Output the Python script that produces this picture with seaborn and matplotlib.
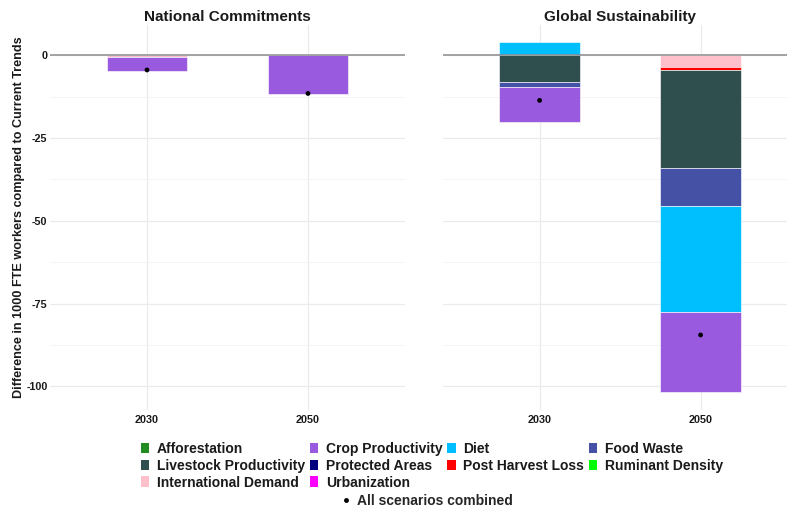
import numpy as np
import pandas as pd
import matplotlib
matplotlib.use("Agg")
import matplotlib.pyplot as plt
from matplotlib.patches import Patch
from matplotlib.lines import Line2D
from matplotlib.ticker import MultipleLocator
import seaborn as sns

# ---- data -------------------------------------------------------------
years = ["2030", "2050"]
scenarios = ["National Commitments", "Global Sustainability"]
components = ["Afforestation", "Crop Productivity", "Diet", "Food Waste",
              "Livestock Productivity", "Protected Areas", "Post Harvest Loss",
              "Ruminant Density", "International Demand", "Urbanization"]
component_colors = ["#228B22", "#995ADF", "#00BFFF", "#4451A4",
                    "#2F4F4F", "#000080", "#FF0000",
                    "#00FF00", "#FFC0CB", "#FF00FF"]

# change in 1000 FTE workers per component (2030, 2050)
nat_crop = [-4.25, -11.6]
nat_intl = [-0.45, 0.0]
glob_crop = [-10.6, -24.1]
glob_diet = [4.05, -32.3]
glob_food_waste = [-1.5, -11.3]
glob_livestock = [-8.05, -29.65]
glob_post_harvest = [0.0, -0.85]
glob_intl = [0.0, -3.6]

# all scenarios combined
nat_combined = [-4.4, -11.5]
glob_combined = [-13.6, -84.5]

# ---- long table -------------------------------------------------------
rows = []
def add(scen, comp, vals):
    for y, v in zip(years, vals):
        rows.append({"scenario": scen, "year": y, "component": comp, "value": v})

add("National Commitments", "Crop Productivity", nat_crop)
add("National Commitments", "International Demand", nat_intl)
add("Global Sustainability", "Crop Productivity", glob_crop)
add("Global Sustainability", "Diet", glob_diet)
add("Global Sustainability", "Food Waste", glob_food_waste)
add("Global Sustainability", "Livestock Productivity", glob_livestock)
add("Global Sustainability", "Post Harvest Loss", glob_post_harvest)
add("Global Sustainability", "International Demand", glob_intl)
df = pd.DataFrame(rows)
df = df[df["value"] != 0]

combined = pd.DataFrame({
    "scenario": ["National Commitments"] * 2 + ["Global Sustainability"] * 2,
    "year": years * 2,
    "value": nat_combined + glob_combined,
})

# stacking: last level nearest zero, positives and negatives stacked apart
order = {c: i for i, c in enumerate(components)}
df["rank"] = df["component"].map(order)
df = df.sort_values("rank", ascending=False)
df["bottom"] = 0.0
for (s, y), g in df.groupby(["scenario", "year"], sort=False):
    pos, neg = 0.0, 0.0
    for idx, r in g.iterrows():
        if r["value"] >= 0:
            df.loc[idx, "bottom"] = pos
            pos += r["value"]
        else:
            df.loc[idx, "bottom"] = neg
            neg += r["value"]

tops = (df["bottom"] + df["value"]).tolist() + df["bottom"].tolist()
lo, hi = min(tops), max(tops)
pad = 0.05 * (hi - lo)
ylim = (lo - pad, hi + pad)

# ---- figure -----------------------------------------------------------
sns.set_theme(style="whitegrid")
plt.rcParams["font.family"] = ["Liberation Sans", "DejaVu Sans"]
plt.rcParams["axes.unicode_minus"] = False

fig = plt.figure(figsize=(7.87, 5.13), dpi=100)
W, H = 787, 513
panel_y0 = (H - 409.7) / H
panel_h = (409.7 - 24.5) / H
ax_left = fig.add_axes([50.4 / W, panel_y0, 354.2 / W, panel_h])
ax_right = fig.add_axes([443.0 / W, panel_y0, 354.2 / W, panel_h])

cmap = dict(zip(components, component_colors))
xpos = {y: i for i, y in enumerate(years)}

for ax, scen in zip([ax_left, ax_right], scenarios):
    ax.set_facecolor("white")
    sub = df[df["scenario"] == scen]
    ax.bar(sub["year"].map(xpos), sub["value"], bottom=sub["bottom"], width=0.5,
           color=sub["component"].map(cmap), edgecolor=(1, 1, 1, 0.6),
           linewidth=0.7, zorder=2)
    ax.axhline(0, color="#8c8c8c", linewidth=1.1, zorder=3)
    cb = combined[combined["scenario"] == scen].copy()
    cb["x"] = cb["year"].map(xpos)
    sns.scatterplot(data=cb, x="x", y="value", color="black", s=12,
                    edgecolor="none", ax=ax, zorder=4, legend=False)
    ax.set_xlim(-0.6, 1.6)
    ax.set_ylim(*ylim)
    ax.set_xticks(range(len(years)))
    ax.set_xticklabels(years)
    ax.yaxis.set_major_locator(MultipleLocator(25))
    ax.yaxis.set_minor_locator(MultipleLocator(12.5))
    ax.grid(which="major", color="#EBEBEB", linewidth=0.9, zorder=0)
    ax.grid(which="minor", axis="y", color="#F2F2F2", linewidth=0.6, zorder=0)
    ax.set_axisbelow(True)
    for sp in ax.spines.values():
        sp.set_visible(False)
    ax.tick_params(axis="both", which="both", length=0, pad=2,
                   labelsize=7.8, labelcolor="#1a1a1a")
    for lab in ax.get_xticklabels() + ax.get_yticklabels():
        lab.set_fontweight("bold")
    ax.tick_params(axis="x", pad=4)
    ax.set_xlabel("")
    ax.set_ylabel("")
    ax.set_title(scen, fontsize=11, fontweight="bold", color="#1a1a1a", pad=2.5)

ax_right.tick_params(axis="y", labelleft=False)
ax_left.set_ylabel("Difference in 1000 FTE workers compared to Current Trends",
                   fontsize=9.1, fontweight="bold", color="#1a1a1a", labelpad=1)

# ---- legends ----------------------------------------------------------
handles = {c: Patch(facecolor=cmap[c], edgecolor="none") for c in components}
col_order = ["Afforestation", "Livestock Productivity", "International Demand",
             "Crop Productivity", "Protected Areas", "Urbanization",
             "Diet", "Post Harvest Loss",
             "Food Waste", "Ruminant Density"]
leg = fig.legend([handles[c] for c in col_order], col_order, ncol=4,
                 loc="upper left", bbox_to_anchor=(141 / W, 1 - 442 / H),
                 frameon=False, borderpad=0, borderaxespad=0,
                 prop={"size": 10, "weight": "bold"},
                 handlelength=0.6, handleheight=0.8, handletextpad=0.55,
                 columnspacing=0.35, labelspacing=0.2)
for t in leg.get_texts():
    t.set_color("#1a1a1a")

dot = Line2D([], [], marker="o", color="black", linestyle="none", markersize=2.5)
fig.legend([dot], ["All scenarios combined"], loc="center",
           bbox_to_anchor=(427 / W, 1 - 501 / H), frameon=False,
           borderpad=0, borderaxespad=0, handlelength=0.6, handletextpad=0.5,
           prop={"size": 10, "weight": "bold"})

fig.savefig("out.png", dpi=100)
